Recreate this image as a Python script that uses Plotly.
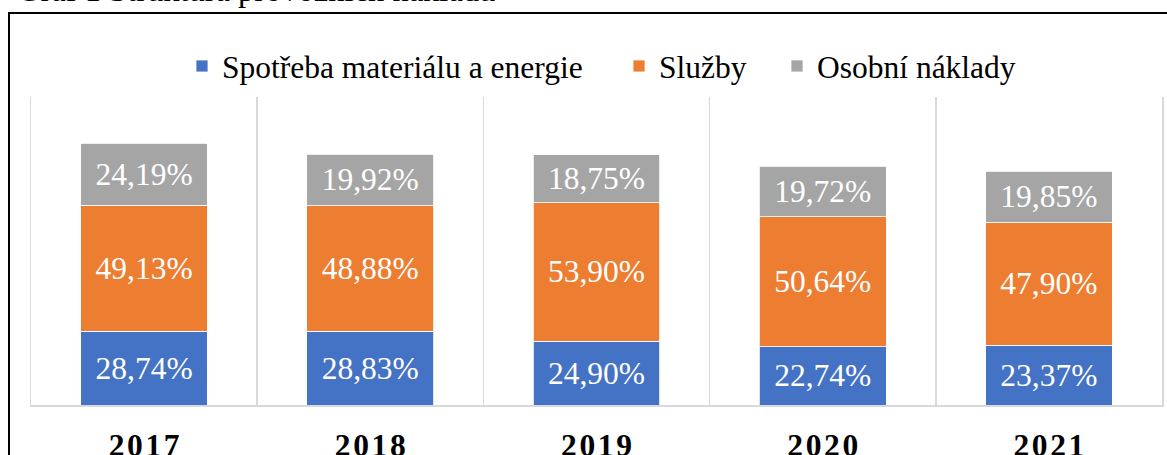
import plotly.graph_objects as go

years = ["2017", "2018", "2019", "2020", "2021"]
material = [28.74, 28.83, 24.90, 22.74, 23.37]
services = [49.13, 48.88, 53.90, 50.64, 47.90]
personnel = [24.19, 19.92, 18.75, 19.72, 19.85]
series_names = ["Spotřeba materiálu a energie", "Služby", "Osobní náklady"]
colors = ["#4472C4", "#ED7D31", "#A5A5A5"]
chart_title = "Graf 1 Struktura provozních nákladů"

W, H = 1167, 455
ML, MR, MT, MB = 31, 5, 97, 50
PW, PH = W - ML - MR, H - MT - MB

def fmt(v):
    return f"{v:.2f}".replace(".", ",") + "%"

FONT = "Liberation Serif"

# legend square left edges in the reference (pixels)
legend_px = [196, 633, 791]
legend_ids = ["legend", "legend2", "legend3"]

fig = go.Figure()
for name, vals, col, lid in zip(series_names, [material, services, personnel], colors, legend_ids):
    fig.add_trace(go.Bar(
        x=years, y=vals, name=name, legend=lid,
        marker=dict(color=col, line=dict(color="white", width=0.8)),
        text=[fmt(v) for v in vals],
        textposition="inside", insidetextanchor="middle", textangle=0,
        textfont=dict(family=FONT, size=31.5, color="white"),
        hoverinfo="skip",
    ))

tick_text = ["\u200a".join(list(y)) for y in years]

legend_common = dict(
    orientation="h", xanchor="left",
    y=(H - MB - 66) / PH, yanchor="middle",
    font=dict(family=FONT, size=31.5, color="black"),
    itemclick=False, itemdoubleclick=False,
    bgcolor="rgba(0,0,0,0)", borderwidth=0,
)
legends = {}
for lid, px in zip(legend_ids, legend_px):
    legends[lid] = dict(legend_common, x=(px - 14 - ML) / PW)

fig.update_layout(
    width=W, height=H,
    barmode="stack", bargap=0.44,
    margin=dict(l=ML, r=MR, t=MT, b=MB, autoexpand=False),
    paper_bgcolor="white", plot_bgcolor="white",
    uniformtext=dict(minsize=31, mode="show"),
    font=dict(family=FONT, color="black"),
    showlegend=True,
    xaxis=dict(
        type="category", tickmode="array", tickvals=years, ticktext=tick_text,
        showgrid=True, gridcolor="#D9D9D9", gridwidth=1.5, tickson="boundaries",
        ticks="", showline=True, linecolor="#D9D9D9", linewidth=2,
        tickfont=dict(family=FONT, size=31.5, color="black", weight="bold"),
        ticklabelstandoff=11, automargin=False,
    ),
    yaxis=dict(
        range=[0, 120], showgrid=False, showticklabels=False, ticks="",
        zeroline=False, showline=True, mirror=True, linecolor="#D9D9D9", linewidth=1.5,
        automargin=False,
    ),
    shapes=[dict(
        type="rect", xref="paper", yref="paper",
        x0=(9 - ML) / PW, x1=1.2, y0=-0.5, y1=(H - MB - 13) / PH,
        line=dict(color="black", width=2), fillcolor="rgba(0,0,0,0)", layer="above",
    )],
    annotations=[dict(
        text=chart_title, xref="paper", yref="paper",
        x=(15 - ML) / PW, xanchor="left",
        y=(H - MB - 10) / PH, yanchor="bottom",
        showarrow=False, font=dict(family=FONT, size=32.5, color="black"),
    )],
    **legends,
)

fig.write_html(
    "out.html",
    config={"displayModeBar": False, "staticPlot": True},
    post_script="document.body.style.margin='0';document.body.style.overflow='hidden';",
)
